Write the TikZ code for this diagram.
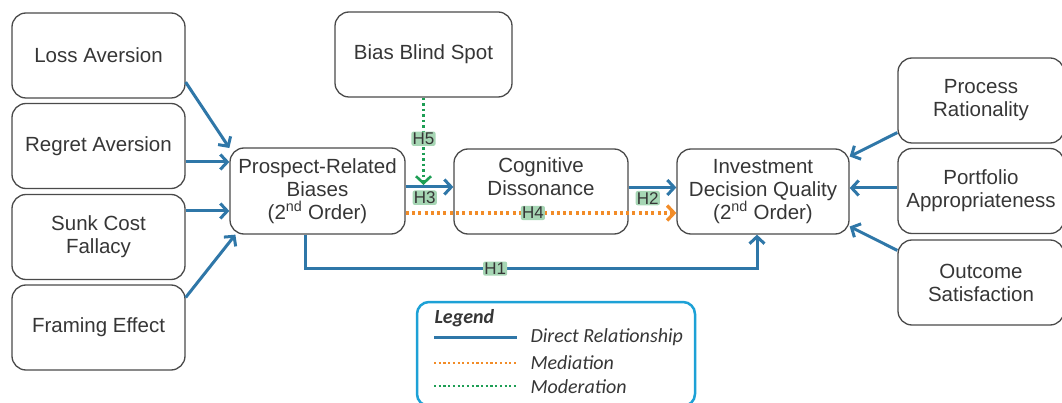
\documentclass[tikz,border=0pt]{standalone}
\usepackage{fontspec}
\setmainfont{Liberation Sans}
\newfontfamily\legfont{Carlito}
\usetikzlibrary{arrows.meta}
\definecolor{dirblue}{HTML}{2F77A8}
\definecolor{medorange}{HTML}{F28C28}
\definecolor{modgreen}{HTML}{1E9E55}
\definecolor{labbg}{HTML}{A6D6B4}
\definecolor{boxline}{HTML}{4A4A4A}
\definecolor{txt}{HTML}{363636}
\definecolor{legline}{HTML}{1DA1D6}
\begin{document}
\begin{tikzpicture}[x=1pt,y=-1pt,
  box/.style={draw=boxline,line width=1.3pt,rounded corners=14pt,minimum height=85pt,
    align=center,text=txt,font=\fontsize{20.5}{23}\selectfont,inner sep=0pt},
  tip/.style={-{Straight Barb[length=7pt,width=15pt]}},
  arr/.style={draw=dirblue,line width=3pt,tip},
  medarr/.style={draw=medorange,line width=3.3pt,dash pattern=on 3pt off 3.3pt,tip},
  modarr/.style={draw=modgreen,line width=2.6pt,dash pattern=on 2.5pt off 3pt,tip},
  lab/.style={fill=labbg,text=txt,font=\fontsize{17}{17}\selectfont,inner sep=1.2pt,rounded corners=2pt},
  legtext/.style={anchor=west,text=txt,font=\legfont\itshape\fontsize{20}{20}\selectfont}]
\useasboundingbox (0,0) rectangle (1062,403);

\node[box,minimum width=173pt] (loss) at (98.5,55.5) {Loss Aversion};
\node[box,minimum width=173pt] (regret) at (98.5,146) {Regret Aversion};
\node[box,minimum width=173pt] (sunk) at (98.5,237) {Sunk Cost\\Fallacy};
\node[box,minimum width=173pt] (framing) at (98.5,327.5) {Framing Effect};
\node[box,minimum width=175pt,minimum height=86pt] (prospect) at (317.5,191) {Prospect-Related\\Biases\\(2\textsuperscript{nd} Order)};
\node[box,minimum width=174pt] (cog) at (541,191.5) {Cognitive\\Dissonance\\\strut};
\node[box,minimum width=172pt] (idq) at (763,191.5) {Investment\\Decision Quality\\(2\textsuperscript{nd} Order)};
\node[box,minimum width=177pt] (bias) at (423.5,54.5) {Bias Blind Spot};
\node[box,minimum width=166pt] (process) at (981,100.5) {Process\\Rationality};
\node[box,minimum width=166pt] (portfolio) at (981,191) {Portfolio\\Appropriateness};
\node[box,minimum width=166pt] (outcome) at (981,282.5) {Outcome\\Satisfaction};

% left inputs
\draw[arr] (loss.-17) -- (prospect.154);
\coordinate (r1) at ([yshift=-16pt]regret.east);
\draw[arr] (r1) -- (r1 -| prospect.west);
\coordinate (s1) at ([yshift=26pt]sunk.east);
\draw[arr] (s1) -- (s1 -| prospect.west);
\draw[arr] (framing.19) -- (prospect.208);

% right inputs
\draw[arr] (process.201) -- (idq.22);
\coordinate (p1) at ([yshift=3pt]portfolio.west);
\draw[arr] (p1) -- (p1 -| idq.east);
\draw[arr] (outcome.159) -- (idq.-22);

% hypotheses
\coordinate (h3a) at ([yshift=4pt]prospect.east);
\draw[arr] (h3a) -- node[lab,pos=0.4,below=2pt] {H3} (h3a -| cog.west);
\coordinate (h2a) at ([yshift=4pt]cog.east);
\draw[arr] (h2a) -- node[lab,pos=0.4,below=2pt] {H2} (h2a -| idq.west);
\coordinate (h4a) at ([yshift=-22pt]prospect.east);
\draw[medarr] (h4a) -- node[lab,pos=0.47] {H4} (h4a -| idq.west);
\draw[modarr] (bias.south) -- node[lab,pos=0.47] {H5} ([yshift=2pt]bias.south |- h3a);
\draw[arr] ([xshift=-12pt]prospect.south) |- node[lab,pos=0.71] {H1} ([xshift=-6pt,yshift=-34pt]idq.south) -- ([xshift=-6pt]idq.south);

% legend
\node[draw=legline,line width=2.5pt,rounded corners=12pt,minimum width=278pt,minimum height=104pt,inner sep=0pt] (legend) at (556,354) {};
\node[anchor=west,text=txt,font=\legfont\bfseries\itshape\fontsize{20}{20}\selectfont] (legtitle) at (431,318) {Legend};
\coordinate (l1a) at (434,337); \coordinate (l1b) at (517,337);
\coordinate (l2a) at (434,363); \coordinate (l2b) at (517,363);
\coordinate (l3a) at (434,386); \coordinate (l3b) at (517,386);
\draw[dirblue,line width=3pt] (l1a) -- (l1b);
\draw[medorange,line width=2.2pt,dash pattern=on 2.2pt off 2.5pt] (l2a) -- (l2b);
\draw[modgreen,line width=2.2pt,dash pattern=on 2.2pt off 2.5pt] (l3a) -- (l3b);
\node[legtext] (t1) at (527,337) {Direct Relationship};
\node[legtext] (t2) at (527,363) {Mediation};
\node[legtext] (t3) at (527,387) {Moderation};
\end{tikzpicture}
\end{document}
